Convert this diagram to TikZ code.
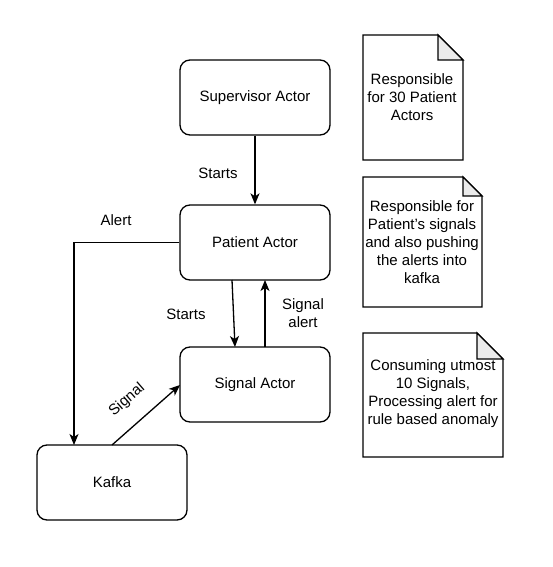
\documentclass[tikz,border=0pt]{standalone}
\usepackage{fontspec}
\setmainfont{Liberation Sans}
\usetikzlibrary{arrows.meta}
\begin{document}
\begin{tikzpicture}[x=1pt,y=-1pt,
  actor/.style={draw, line width=1.3pt, rounded corners=10pt, minimum width=150pt, minimum height=75pt, font=\fontsize{15}{18}\selectfont, align=center, inner sep=0pt},
  lbl/.style={font=\fontsize{15}{18}\selectfont, align=center, inner sep=1pt},
  notetext/.style={font=\fontsize{15}{18}\selectfont, align=center, inner sep=0pt},
  conn/.style={line width=1.3pt, -{Stealth[length=11pt,width=9pt,inset=3pt]}},
  noteline/.style={line width=1.3pt, line join=miter},
  fold/.style={fill=black!8, line width=1.3pt}
]
\useasboundingbox (0,0) rectangle (552,567);

\node[actor] (sup) at (255,97.5) {Supervisor Actor};
\node[actor] (pat) at (255,242.5) {Patient Actor};
\node[actor] (sig) at (255,384.5) {Signal Actor};
\node[actor] (kaf) at (112,482.5) {Kafka};

% connectors
\draw[conn] (sup.south) -- (pat.north);
\node[lbl] (l1) at (218,173) {Starts};

\coordinate (pa1) at (232,280);
\coordinate (sa1) at (235,347);
\draw[conn] (pa1) -- (sa1);
\node[lbl] (l2) at (186,314) {Starts};

\coordinate (sa2) at (265,347);
\coordinate (pa2) at (265,280);
\draw[conn] (sa2) -- (pa2);
\node[lbl] (l3) at (303,313) {Signal\\alert};

\coordinate (ka1) at (74,445);
\draw[conn] (pat.west) -- (74,242.5) -- (ka1);
\node[lbl] (l4) at (116,220) {Alert};

\coordinate (ka2) at (112,445);
\coordinate (sg2) at (180,385);
\draw[conn] (ka2) -- (sg2);
\node[lbl, rotate=41, inner sep=0pt] (l5) at (127,400) {Signal};

% notes
\draw[noteline] (363,35) -- (438,35) -- (463,60) -- (463,160) -- (363,160) -- cycle;
\draw[fold] (438,35) -- (438,60) -- (463,60) -- cycle;
\node[notetext] (n1) at (412,97) {Responsible\\for 30 Patient\\Actors};

\draw[noteline] (363,177) -- (463,177) -- (482,196) -- (482,307) -- (363,307) -- cycle;
\draw[fold] (463,177) -- (463,196) -- (482,196) -- cycle;
\node[notetext] (n2) at (422,242) {Responsible for\\Patient's signals\\and also pushing\\the alerts into\\kafka};

\draw[noteline] (363,333) -- (477,333) -- (503,359) -- (503,457) -- (363,457) -- cycle;
\draw[fold] (477,333) -- (477,359) -- (503,359) -- cycle;
\node[notetext] (n3) at (433,394) {Consuming utmost\\10 Signals,\\Processing alert for\\rule based anomaly};
\end{tikzpicture}
\end{document}
